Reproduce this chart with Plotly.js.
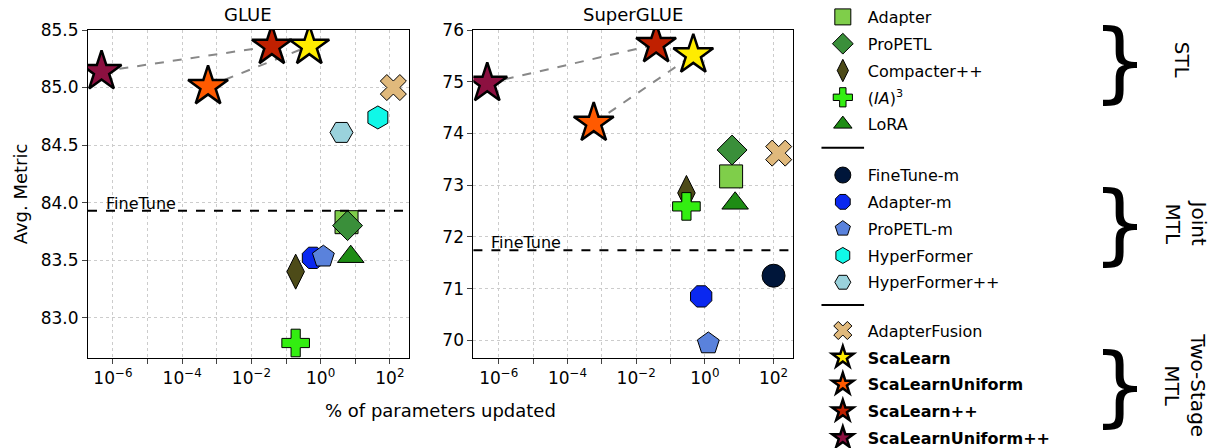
<!DOCTYPE html>
<html>
<head>
<meta charset="utf-8">
<script src="https://cdn.plot.ly/plotly-3.0.1.min.js"></script>
<style>body{margin:0;background:#fff}#chart{width:1217px;height:448px}</style>
</head>
<body>
<div id="chart"></div>
<script>
// methods in legend order
const methods = ['Adapter', 'ProPETL', 'Compacter++', '(<i>IA</i>)<sup>3</sup>', 'LoRA',
  'FineTune-m', 'Adapter-m', 'ProPETL-m', 'HyperFormer', 'HyperFormer++',
  'AdapterFusion', 'ScaLearn', 'ScaLearnUniform', 'ScaLearn++', 'ScaLearnUniform++'];
const legendOf = ['legend', 'legend', 'legend', 'legend', 'legend',
  'legend2', 'legend2', 'legend2', 'legend2', 'legend2',
  'legend3', 'legend3', 'legend3', 'legend3', 'legend3'];
const colors = ['#7fce4a', '#3a8f3a', '#4d4b18', '#33ee11', '#1e8c14',
  '#00163a', '#0a28f0', '#5a82dc', '#10f8e8', '#9ad2dc',
  '#e0b97c', '#ffec00', '#ff5a00', '#c02000', '#8c1040'];
const symbols = ['square', 'diamond', 'diamond-tall', 'cross', 'triangle-up',
  'circle', 'octagon', 'pentagon', 'hexagon', 'hexagon2',
  'x', 'star', 'star', 'star', 'star'];

// % params updated (null = not shown)
const glueParams = [5.6, 6, 0.19, 0.19, 7.4, null, 0.6, 1.2, 45, 4, 126, 0.47, 5.6e-4, 0.039, 4.7e-7];
const glueScore = [83.83, 83.80, 83.40, 82.78, 83.53, null, 83.52, 83.53, 84.74, 84.61, 85.00, 85.36, 85.01, 85.36, 85.14];
const sgParams = [5.8, 6.2, 0.29, 0.29, 7.6, 100, 0.78, 1.26, null, null, 141, 0.46, 5.8e-4, 0.038, 4.6e-7];
const sgScore = [73.17, 73.68, 72.85, 72.59, 72.65, 71.25, 70.85, 69.94, null, null, 73.62, 75.52, 74.20, 75.72, 74.97];
const fineTune = [83.93, 71.74];

function markerFor(i) {
  const star = symbols[i] === 'star';
  return {symbol: symbols[i], color: colors[i], size: star ? 30 : (symbols[i] === 'diamond-tall' ? 25 : 23),
    line: {color: '#000', width: star ? 2.5 : 1}};
}

const traces = [];
function addPanel(params, score, xa, ya) {
  [[12, 11], [14, 13]].forEach(([a, b]) => {
    traces.push({type: 'scatter', mode: 'lines', x: [params[a], params[b]], y: [score[a], score[b]],
      xaxis: xa, yaxis: ya, showlegend: false, hoverinfo: 'skip',
      line: {color: '#888', width: 2, dash: 'dash'}});
  });
  methods.forEach((m, i) => {
    if (params[i] === null) return;
    traces.push({type: 'scatter', mode: 'markers', x: [params[i]], y: [score[i]], xaxis: xa, yaxis: ya,
      showlegend: false, marker: markerFor(i)});
  });
}
addPanel(glueParams, glueScore, 'x', 'y');
addPanel(sgParams, sgScore, 'x2', 'y2');
// legend entries, one group each so tracegroupgap spaces the rows
methods.forEach((m, i) => {
  traces.push({type: 'scatter', mode: 'markers', x: [null], y: [null], xaxis: 'x', yaxis: 'y',
    name: i >= 11 ? '<b>' + m + '</b>' : m, legend: legendOf[i], legendgroup: 'g' + i,
    showlegend: true, marker: markerFor(i)});
});

const tickvals = [1e-7, 1e-6, 1e-5, 1e-4, 1e-3, 1e-2, 1e-1, 1, 10, 100];
const ticktext = ['', '10<sup>−6</sup>', '', '10<sup>−4</sup>', '', '10<sup>−2</sup>', '', '10<sup>0</sup>', '', '10<sup>2</sup>'];
const xbase = {type: 'log', tickvals, ticktext, showgrid: true, gridcolor: '#ccc', griddash: 'dot',
  ticks: 'outside', ticklen: 5, showline: true, linecolor: '#000', mirror: true, zeroline: false,
  tickfont: {size: 17, color: '#000'}};
const ybase = {showgrid: true, gridcolor: '#ccc', griddash: 'dot', ticks: 'outside', ticklen: 5,
  showline: true, linecolor: '#000', mirror: true, zeroline: false, tickfont: {size: 17, color: '#000'}};

const legBase = (y) => ({x: 0.672, y, xanchor: 'left', yanchor: 'top', font: {size: 16},
  tracegroupgap: 3, itemwidth: 40, bgcolor: 'rgba(0,0,0,0)'});
const brace = (y) => ({text: '}', xref: 'paper', yref: 'paper', x: 0.945, y, xanchor: 'right', yanchor: 'middle',
  showarrow: false, font: {size: 88, family: 'DejaVu Sans'}});
const label = (text, y, x) => ({text, xref: 'paper', yref: 'paper', x, y, xanchor: 'left', yanchor: 'middle',
  showarrow: false, textangle: 90, font: {size: 20}});

const layout = {
  width: 1217, height: 448, margin: {l: 0, r: 0, t: 0, b: 0, autoexpand: false},
  paper_bgcolor: '#fff', plot_bgcolor: '#fff',
  font: {family: 'DejaVu Sans', color: '#000'},
  showlegend: true,
  legend: legBase(1.0), legend2: legBase(0.647), legend3: legBase(0.30),
  xaxis: {...xbase, domain: [0.0723, 0.336], range: [-6.72, 2.55]},
  yaxis: {...ybase, domain: [0.201, 0.933], range: [82.65, 85.5], dtick: 0.5, tickformat: '.1f',
    title: {text: 'Avg. Metric', font: {size: 18}, standoff: 8}},
  xaxis2: {...xbase, domain: [0.389, 0.652], range: [-6.74, 2.58], anchor: 'y2'},
  yaxis2: {...ybase, domain: [0.201, 0.933], range: [69.66, 76], dtick: 1, anchor: 'x2'},
  shapes: [
    {type: 'line', xref: 'x domain', yref: 'y', x0: 0, x1: 1, y0: fineTune[0], y1: fineTune[0], line: {color: '#000', width: 2, dash: 'dash'}},
    {type: 'line', xref: 'x2 domain', yref: 'y2', x0: 0, x1: 1, y0: fineTune[1], y1: fineTune[1], line: {color: '#000', width: 2, dash: 'dash'}},
    {type: 'line', xref: 'paper', yref: 'paper', x0: 0.675, x1: 0.71, y0: 0.67, y1: 0.67, line: {color: '#000', width: 2}},
    {type: 'line', xref: 'paper', yref: 'paper', x0: 0.675, x1: 0.71, y0: 0.319, y1: 0.319, line: {color: '#000', width: 2}}
  ],
  annotations: [
    {text: 'GLUE', xref: 'x domain', yref: 'paper', x: 0.5, y: 0.94, yanchor: 'bottom', showarrow: false, font: {size: 18}},
    {text: 'SuperGLUE', xref: 'x2 domain', yref: 'paper', x: 0.5, y: 0.94, yanchor: 'bottom', showarrow: false, font: {size: 18}},
    {text: '% of parameters updated', xref: 'paper', yref: 'paper', x: 0.362, y: 0.083, yanchor: 'middle', showarrow: false, font: {size: 18}},
    {text: 'FineTune', xref: 'x domain', yref: 'y', x: 0.05, y: fineTune[0], xanchor: 'left', yanchor: 'bottom', showarrow: false, font: {size: 16}, yshift: -4},
    {text: 'FineTune', xref: 'x2 domain', yref: 'y2', x: 0.05, y: fineTune[1], xanchor: 'left', yanchor: 'bottom', showarrow: false, font: {size: 16}, yshift: -4},
    brace(0.866), brace(0.504), brace(0.141),
    label('STL', 0.866, 0.96), label('Joint<br>MTL', 0.504, 0.952), label('Two-Stage<br>MTL', 0.141, 0.952)
  ]
};

Plotly.newPlot('chart', traces, layout, {displayModeBar: false, staticPlot: true});
</script>
</body>
</html>
